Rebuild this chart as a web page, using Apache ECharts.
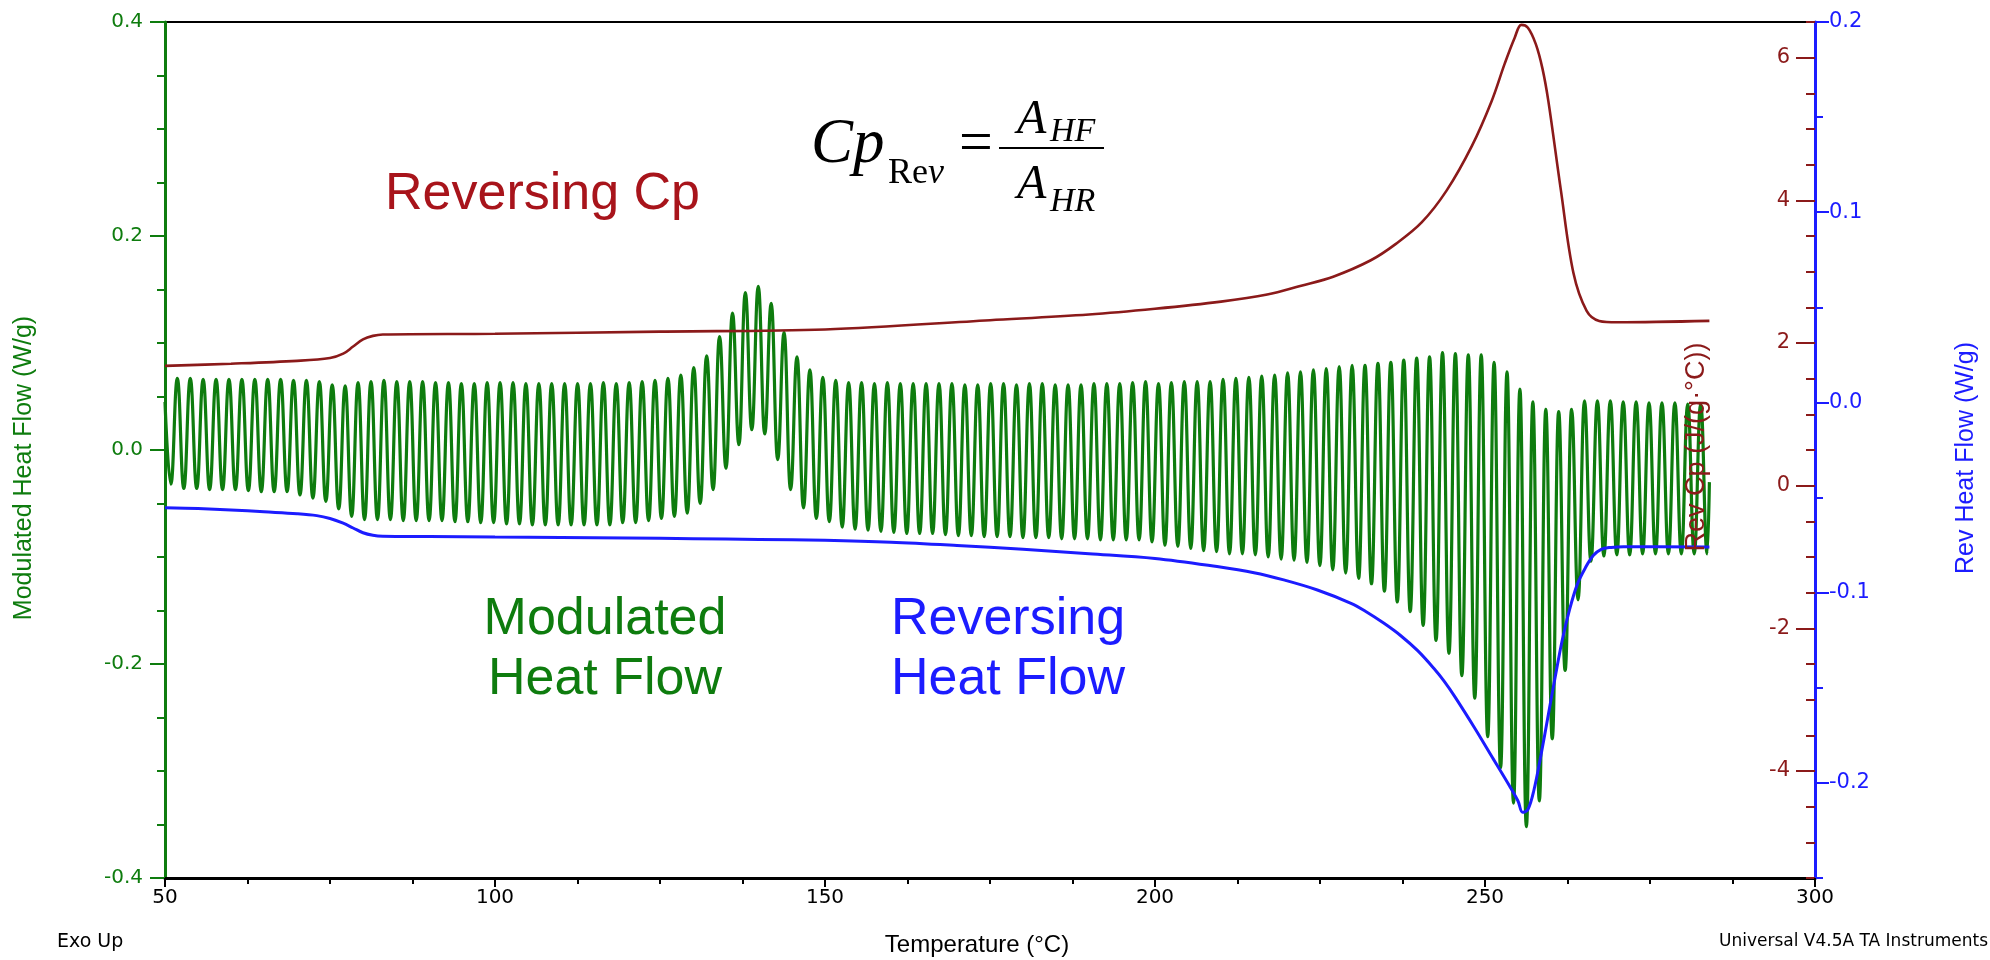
<!DOCTYPE html>
<html>
<head>
<meta charset="utf-8">
<title>MDSC – Modulated, Reversing Heat Flow and Reversing Cp</title>
<script src="https://cdn.jsdelivr.net/npm/echarts@6/dist/echarts.min.js"></script>
<style>
  html, body { margin: 0; padding: 0; background: #ffffff; }
  #chart { width: 1990px; height: 960px; }
</style>
</head>
<body>
<div id="chart"></div>
<script>
// ---------------- Modulated heat flow (W/g): one peak and one trough per modulation cycle ----------------
const mhfPeakTemp = [
  51.87, 53.83, 55.78, 57.74, 59.69, 61.65, 63.61, 65.56, 67.52, 69.47,
  71.43, 73.39, 75.34, 77.30, 79.25, 81.21, 83.17, 85.12, 87.08, 89.03,
  90.99, 92.95, 94.90, 96.86, 98.81, 100.77, 102.73, 104.68, 106.64, 108.59,
  110.55, 112.51, 114.46, 116.42, 118.37, 120.33, 122.29, 124.24, 126.20, 128.15,
  130.11, 132.07, 134.02, 135.98, 137.93, 139.89, 141.85, 143.80, 145.76, 147.71,
  149.67, 151.63, 153.58, 155.54, 157.49, 159.45, 161.41, 163.36, 165.32, 167.27,
  169.23, 171.19, 173.14, 175.10, 177.05, 179.01, 180.97, 182.92, 184.88, 186.83,
  188.79, 190.75, 192.70, 194.66, 196.61, 198.57, 200.53, 202.48, 204.44, 206.39,
  208.35, 210.31, 212.26, 214.22, 216.17, 218.13, 220.09, 222.04, 224.00, 225.95,
  227.91, 229.87, 231.82, 233.78, 235.73, 237.69, 239.65, 241.60, 243.56, 245.51,
  247.47, 249.43, 251.38, 253.34, 255.29, 257.25, 259.21, 261.16, 263.12, 265.07,
  267.03, 268.99, 270.94, 272.90, 274.85, 276.81, 278.77, 280.72, 282.68
];
const mhfPeakValue = [
  0.067, 0.067, 0.066, 0.066, 0.066, 0.066, 0.066, 0.066, 0.066, 0.065,
  0.065, 0.064, 0.061, 0.060, 0.063, 0.064, 0.065, 0.064, 0.064, 0.064,
  0.063, 0.063, 0.062, 0.062, 0.063, 0.063, 0.063, 0.062, 0.062, 0.062,
  0.062, 0.062, 0.062, 0.063, 0.062, 0.063, 0.064, 0.065, 0.067, 0.070,
  0.077, 0.088, 0.106, 0.128, 0.147, 0.153, 0.137, 0.110, 0.087, 0.075,
  0.068, 0.065, 0.063, 0.063, 0.062, 0.063, 0.062, 0.062, 0.062, 0.062,
  0.062, 0.061, 0.061, 0.062, 0.062, 0.061, 0.062, 0.062, 0.061, 0.061,
  0.061, 0.062, 0.062, 0.062, 0.063, 0.064, 0.062, 0.063, 0.064, 0.064,
  0.064, 0.066, 0.067, 0.068, 0.069, 0.070, 0.072, 0.073, 0.075, 0.076,
  0.078, 0.079, 0.079, 0.081, 0.082, 0.084, 0.086, 0.087, 0.091, 0.090,
  0.089, 0.089, 0.082, 0.073, 0.057, 0.045, 0.038, 0.036, 0.038, 0.046,
  0.046, 0.046, 0.045, 0.045, 0.044, 0.044, 0.044, 0.043, 0.043
];
const mhfTroughTemp = [
  50.89,
  52.85, 54.81, 56.76, 58.72, 60.67, 62.63, 64.59, 66.54, 68.50, 70.45,
  72.41, 74.37, 76.32, 78.28, 80.23, 82.19, 84.15, 86.10, 88.06, 90.01,
  91.97, 93.93, 95.88, 97.84, 99.79, 101.75, 103.71, 105.66, 107.62, 109.57,
  111.53, 113.49, 115.44, 117.40, 119.35, 121.31, 123.27, 125.22, 127.18, 129.13,
  131.09, 133.05, 135.00, 136.96, 138.91, 140.87, 142.83, 144.78, 146.74, 148.69,
  150.65, 152.61, 154.56, 156.52, 158.47, 160.43, 162.39, 164.34, 166.30, 168.25,
  170.21, 172.17, 174.12, 176.08, 178.03, 179.99, 181.95, 183.90, 185.86, 187.81,
  189.77, 191.73, 193.68, 195.64, 197.59, 199.55, 201.51, 203.46, 205.42, 207.37,
  209.33, 211.29, 213.24, 215.20, 217.15, 219.11, 221.07, 223.02, 224.98, 226.93,
  228.89, 230.85, 232.80, 234.76, 236.71, 238.67, 240.63, 242.58, 244.54, 246.49,
  248.45, 250.41, 252.36, 254.32, 256.27, 258.23, 260.19, 262.14, 264.10, 266.05,
  268.01, 269.97, 271.92, 273.88, 275.83, 277.79, 279.75, 281.70, 283.66
];
const mhfTroughValue = [
  -0.032,
  -0.036, -0.036, -0.037, -0.037, -0.037, -0.038, -0.039, -0.039, -0.039, -0.042,
  -0.045, -0.048, -0.055, -0.062, -0.065, -0.065, -0.065, -0.066, -0.066, -0.066,
  -0.066, -0.067, -0.067, -0.068, -0.068, -0.069, -0.069, -0.070, -0.070, -0.070,
  -0.070, -0.070, -0.070, -0.070, -0.068, -0.068, -0.066, -0.064, -0.062, -0.059,
  -0.050, -0.037, -0.017, 0.005, 0.019, 0.015, -0.009, -0.037, -0.054, -0.064,
  -0.067, -0.072, -0.074, -0.075, -0.076, -0.077, -0.078, -0.078, -0.078, -0.079,
  -0.080, -0.080, -0.081, -0.081, -0.081, -0.082, -0.082, -0.082, -0.083, -0.083,
  -0.083, -0.084, -0.084, -0.084, -0.084, -0.086, -0.089, -0.090, -0.092, -0.094,
  -0.095, -0.097, -0.097, -0.098, -0.100, -0.102, -0.103, -0.105, -0.108, -0.112,
  -0.115, -0.120, -0.125, -0.132, -0.142, -0.151, -0.164, -0.178, -0.190, -0.211,
  -0.232, -0.268, -0.297, -0.330, -0.352, -0.328, -0.270, -0.206, -0.140, -0.104,
  -0.099, -0.098, -0.098, -0.097, -0.097, -0.097, -0.097, -0.097, -0.097
];
// first and last recorded samples of the modulated signal
const mhfEnds = [[50.0, 0.045], [284.0, -0.030]];

// ---------------- Reversing heat flow (W/g) ----------------
const revHfTemp = [
  50, 55, 60, 65, 70, 73, 75, 77, 78.5, 80, 81.5, 83, 90, 100, 110, 120, 130, 140, 150,
  160, 170, 180, 190, 200, 209.4, 215, 219.5, 224.6, 229.7, 232.0, 234.7, 237.2, 239.8,
  242.3, 243.8, 245.4, 248.5, 251.1, 253.7, 255.0, 255.7, 256.5, 257.4, 258.5, 259.6,
  260.6, 261.7, 262.8, 264.0, 265.2, 266.4, 267.6, 269.1, 271, 284
];
const revHfValue = [
  -0.0553, -0.0558, -0.0565, -0.0575, -0.0585, -0.0595, -0.0610, -0.0635, -0.0660, -0.0685,
  -0.0698, -0.0703, -0.0705, -0.0708, -0.0710, -0.0713, -0.0716, -0.0720, -0.0725,
  -0.0735, -0.0752, -0.0772, -0.0795, -0.0820, -0.0863, -0.0895, -0.0933, -0.0986, -0.1056,
  -0.1100, -0.1161, -0.1225, -0.1305, -0.1400, -0.1465, -0.1545, -0.1715, -0.1865, -0.2015,
  -0.2095, -0.2155, -0.2140, -0.2040, -0.1850, -0.1640, -0.1450, -0.1250, -0.1090, -0.0955,
  -0.0870, -0.0805, -0.0772, -0.0762, -0.0758, -0.0760
];

// ---------------- Reversing heat capacity (J/(g·°C)) ----------------
const revCpTemp = [
  50, 60, 70, 75, 77, 78.5, 80, 81.5, 83, 100, 125, 150, 175, 190, 200, 210, 217, 222, 227,
  232.7, 236.5, 240.4, 244.2, 248, 251, 253, 254.5, 255.5, 256.5, 257.7, 258.7, 259.6, 261.5,
  263.4, 265.4, 267.3, 270, 284
];
const revCpValue = [
  1.68, 1.71, 1.75, 1.79, 1.85, 1.95, 2.05, 2.10, 2.12, 2.13, 2.16, 2.19, 2.32, 2.40, 2.48,
  2.58, 2.68, 2.80, 2.93, 3.16, 3.39, 3.69, 4.14, 4.76, 5.39, 5.92, 6.28, 6.46, 6.42, 6.19,
  5.85, 5.39, 4.14, 2.98, 2.45, 2.31, 2.29, 2.31
];

// ---------------- Axis ticks ----------------
const tempTicks = [50, 100, 150, 200, 250, 300];
const cpMajorTicks = [-4, -2, 0, 2, 4, 6];
const revHfMajorTicks = [-0.2, -0.1, 0, 0.1, 0.2];

// ---------------- Build series data ----------------
const zip = (xs, ys) => xs.map((x, i) => [x, ys[i]]);
const mhfData = zip(mhfPeakTemp, mhfPeakValue)
  .concat(zip(mhfTroughTemp, mhfTroughValue))
  .concat(mhfEnds)
  .sort((a, b) => a[0] - b[0]);
const revHfData = zip(revHfTemp, revHfValue);
const revCpData = zip(revCpTemp, revCpValue);

const GREEN = '#0e7c0e';
const RED = '#8b1a1a';
const BLUE = '#1c1cff';
const TICK_FONT = '"DejaVu Sans", Verdana, sans-serif';
const SANS = '"Liberation Sans", Arial, sans-serif';
const SERIF = '"Liberation Serif", "Times New Roman", serif';

const chart = echarts.init(document.getElementById('chart'), null, { renderer: 'canvas' });

const tickLabel = (color, size) => ({ color: color, fontFamily: TICK_FONT, fontSize: size });

const option = {
  animation: false,
  backgroundColor: '#ffffff',
  grid: {
    left: 165, top: 22, width: 1650, height: 856,
    show: true, borderColor: '#000000', borderWidth: 2, backgroundColor: 'transparent',
    outerBoundsMode: 'none', containLabel: false
  },
  xAxis: [{
    type: 'value', min: 50, max: 300, interval: 50, position: 'bottom',
    axisLine: { show: true, onZero: false, lineStyle: { color: '#000', width: 3 } },
    axisTick: { show: true, inside: false, length: 9, lineStyle: { color: '#000', width: 2 } },
    minorTick: { show: true, splitNumber: 4, length: 6, lineStyle: { color: '#000', width: 2 } },
    axisLabel: Object.assign(tickLabel('#000', 20), { margin: 10, showMinLabel: true, showMaxLabel: true,
      customValues: tempTicks }),
    splitLine: { show: false }, minorSplitLine: { show: false }
  }],
  yAxis: [
    { // modulated heat flow, left
      type: 'value', min: -0.4, max: 0.4, interval: 0.2, position: 'left',
      axisLine: { show: true, onZero: false, lineStyle: { color: GREEN, width: 3 } },
      axisTick: { show: true, inside: false, length: 15, lineStyle: { color: GREEN, width: 2 } },
      minorTick: { show: true, splitNumber: 4, length: 8, lineStyle: { color: GREEN, width: 2 } },
      axisLabel: Object.assign(tickLabel(GREEN, 20), { margin: 22, formatter: v => v.toFixed(1),
        showMinLabel: true, showMaxLabel: true }),
      splitLine: { show: false }, minorSplitLine: { show: false }
    },
    { // reversing Cp scale (minor ticks)
      type: 'value', min: -5.5, max: 6.5, interval: 0.5, position: 'right', offset: 0,
      axisLine: { show: false, onZero: false },
      axisTick: { show: true, inside: true, length: 9, lineStyle: { color: RED, width: 2 } },
      axisLabel: { show: false },
      splitLine: { show: false }
    },
    { // reversing Cp scale (major ticks and labels)
      type: 'value', min: -5.5, max: 6.5, position: 'right', offset: 0,
      axisLine: { show: false, onZero: false },
      axisTick: { show: true, inside: true, length: 19, customValues: cpMajorTicks,
        lineStyle: { color: RED, width: 2 } },
      axisLabel: Object.assign(tickLabel(RED, 21), { inside: true, margin: 25, customValues: cpMajorTicks,
        formatter: v => String(v) }),
      splitLine: { show: false }
    },
    { // reversing heat flow scale (axis line and minor ticks)
      type: 'value', min: -0.25, max: 0.2, interval: 0.05, position: 'right', offset: 0,
      axisLine: { show: true, onZero: false, lineStyle: { color: BLUE, width: 3 } },
      axisTick: { show: true, inside: false, length: 8, lineStyle: { color: BLUE, width: 2 } },
      axisLabel: { show: false },
      splitLine: { show: false }
    },
    { // reversing heat flow scale (major ticks and labels)
      type: 'value', min: -0.25, max: 0.2, position: 'right', offset: 0,
      axisLine: { show: false, onZero: false },
      axisTick: { show: true, inside: false, length: 14, customValues: revHfMajorTicks,
        lineStyle: { color: BLUE, width: 2 } },
      axisLabel: Object.assign(tickLabel(BLUE, 21), { margin: 14, customValues: revHfMajorTicks,
        formatter: v => v.toFixed(1) }),
      splitLine: { show: false }
    }
  ],
  series: [
    {
      name: 'Modulated Heat Flow', type: 'line', xAxisIndex: 0, yAxisIndex: 0,
      data: mhfData, showSymbol: false, symbol: 'none', smooth: 0.45, smoothMonotone: 'x',
      lineStyle: { color: GREEN, width: 3.2 }, z: 2, silent: true
    },
    {
      name: 'Reversing Cp', type: 'line', xAxisIndex: 0, yAxisIndex: 1,
      data: revCpData, showSymbol: false, symbol: 'none', smooth: 0.35,
      lineStyle: { color: RED, width: 2.6 }, z: 3, silent: true
    },
    {
      name: 'Reversing Heat Flow', type: 'line', xAxisIndex: 0, yAxisIndex: 3,
      data: revHfData, showSymbol: false, symbol: 'none', smooth: 0.35,
      lineStyle: { color: BLUE, width: 3 }, z: 3, silent: true
    }
  ],
  graphic: [
    // axis titles
    { type: 'text', x: 24, y: 468, rotation: Math.PI / 2, z: 10,
      style: { text: 'Modulated Heat Flow (W/g)', fill: GREEN, fontFamily: SANS, fontSize: 25,
        align: 'center', verticalAlign: 'middle' } },
    { type: 'text', x: 1966, y: 458, rotation: Math.PI / 2, z: 10,
      style: { text: 'Rev Heat Flow (W/g)', fill: BLUE, fontFamily: SANS, fontSize: 25,
        align: 'center', verticalAlign: 'middle' } },
    { type: 'text', x: 1697, y: 447, rotation: Math.PI / 2, z: 10,
      style: { text: 'Rev Cp (J/(g·°C))', fill: RED, fontFamily: SANS, fontSize: 27,
        align: 'center', verticalAlign: 'middle' } },
    { type: 'text', x: 977, y: 945, z: 10,
      style: { text: 'Temperature (°C)', fill: '#000', fontFamily: SANS, fontSize: 24,
        align: 'center', verticalAlign: 'middle' } },
    { type: 'text', x: 57, y: 942, z: 10,
      style: { text: 'Exo Up', fill: '#000', fontFamily: TICK_FONT, fontSize: 19,
        align: 'left', verticalAlign: 'middle' } },
    { type: 'text', x: 1988, y: 942, z: 10,
      style: { text: 'Universal V4.5A TA Instruments', fill: '#000', fontFamily: TICK_FONT, fontSize: 17,
        align: 'right', verticalAlign: 'middle' } },

    // curve annotations
    { type: 'text', x: 385, y: 195, z: 10,
      style: { text: 'Reversing Cp', fill: '#a8141b', fontFamily: SANS, fontSize: 52,
        align: 'left', verticalAlign: 'middle' } },
    { type: 'text', x: 605, y: 620, z: 10,
      style: { text: 'Modulated', fill: GREEN, fontFamily: SANS, fontSize: 52,
        align: 'center', verticalAlign: 'middle' } },
    { type: 'text', x: 605, y: 680, z: 10,
      style: { text: 'Heat Flow', fill: GREEN, fontFamily: SANS, fontSize: 52,
        align: 'center', verticalAlign: 'middle' } },
    { type: 'text', x: 1008, y: 620, z: 10,
      style: { text: 'Reversing', fill: BLUE, fontFamily: SANS, fontSize: 52,
        align: 'center', verticalAlign: 'middle' } },
    { type: 'text', x: 1008, y: 680, z: 10,
      style: { text: 'Heat Flow', fill: BLUE, fontFamily: SANS, fontSize: 52,
        align: 'center', verticalAlign: 'middle' } },

    // Cp_Rev = A_HF / A_HR
    { type: 'text', x: 811, y: 145, z: 10,
      style: { text: 'Cp', fill: '#000', fontFamily: SERIF, fontStyle: 'italic', fontSize: 63,
        align: 'left', verticalAlign: 'middle' } },
    { type: 'text', x: 888, y: 174, z: 10,
      style: { text: '{r|Re}{i|v}', fill: '#000', fontFamily: SERIF, fontSize: 36,
        align: 'left', verticalAlign: 'middle',
        rich: { r: { fontFamily: SERIF, fontSize: 36, fill: '#000' },
                i: { fontFamily: SERIF, fontSize: 36, fontStyle: 'italic', fill: '#000' } } } },
    { type: 'text', x: 976, y: 145, z: 10,
      style: { text: '=', fill: '#000', fontFamily: SERIF, fontSize: 60,
        align: 'center', verticalAlign: 'middle' } },
    { type: 'line', z: 10,
      shape: { x1: 999, y1: 148, x2: 1104, y2: 148 },
      style: { stroke: '#000', lineWidth: 2 } },
    { type: 'text', x: 1017, y: 120, z: 10,
      style: { text: 'A', fill: '#000', fontFamily: SERIF, fontStyle: 'italic', fontSize: 48,
        align: 'left', verticalAlign: 'middle' } },
    { type: 'text', x: 1050, y: 132, z: 10,
      style: { text: 'HF', fill: '#000', fontFamily: SERIF, fontStyle: 'italic', fontSize: 34,
        align: 'left', verticalAlign: 'middle' } },
    { type: 'text', x: 1017, y: 185, z: 10,
      style: { text: 'A', fill: '#000', fontFamily: SERIF, fontStyle: 'italic', fontSize: 48,
        align: 'left', verticalAlign: 'middle' } },
    { type: 'text', x: 1050, y: 202, z: 10,
      style: { text: 'HR', fill: '#000', fontFamily: SERIF, fontStyle: 'italic', fontSize: 34,
        align: 'left', verticalAlign: 'middle' } }
  ]
};

chart.setOption(option);
</script>
</body>
</html>
